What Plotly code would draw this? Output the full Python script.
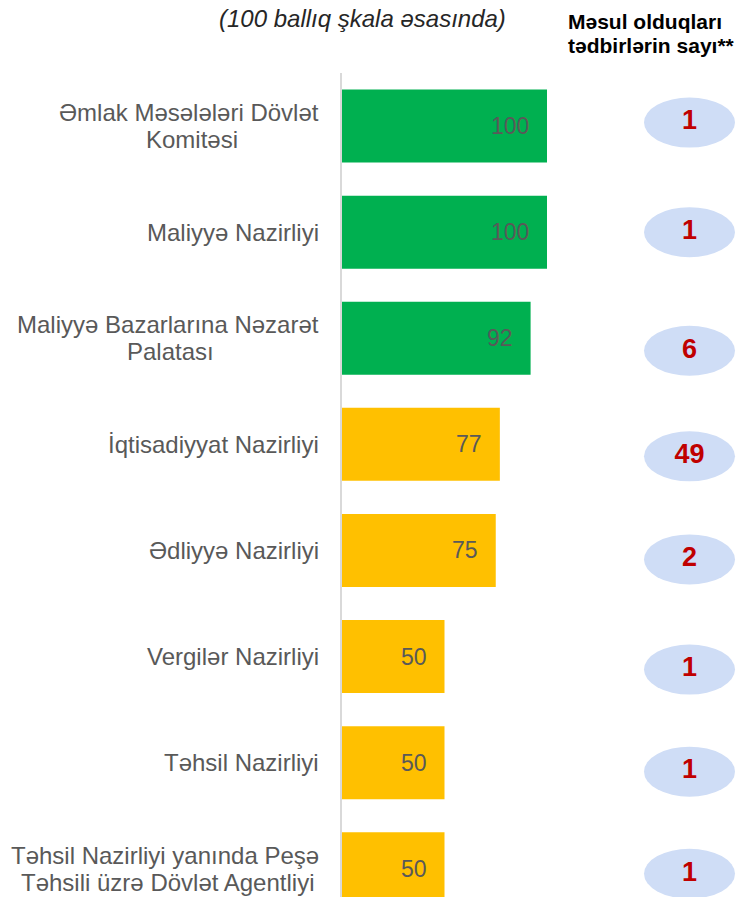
import plotly.graph_objects as go

categories = [
    "Əmlak Məsələləri Dövlət<br>Komitəsi",
    "Maliyyə Nazirliyi",
    "Maliyyə Bazarlarına Nəzarət<br>Palatası",
    "İqtisadiyyat Nazirliyi",
    "Ədliyyə Nazirliyi",
    "Vergilər Nazirliyi",
    "Təhsil Nazirliyi",
    "Təhsil Nazirliyi yanında Peşə<br>Təhsili üzrə Dövlət Agentliyi",
]
scores = [100, 100, 92, 77, 75, 50, 50, 50]
measures = [1, 1, 6, 49, 2, 1, 1, 1]

title_text = "(100 ballıq şkala əsasında)"
header_lines = ["Məsul olduqları", "tədbirlərin sayı**"]

GREEN = "#00B050"
YELLOW = "#FFC000"
colors = [GREEN if s >= 90 else YELLOW for s in scores]
FONT = "Liberation Sans, Arial, sans-serif"

# page geometry (body margin removed via post_script)
PAGE_OFF = 0
PLOT_L, PLOT_T, PLOT_R, PLOT_B = 342, 73, 738, 897
FIG_W = 738 - PAGE_OFF
FIG_H = 897 - PAGE_OFF
PW = PLOT_R - PLOT_L
PH = PLOT_B - PLOT_T
ROW_PX = 106.1
PX_PER_UNIT = 2.05
LABEL_SIZE = 24
LABEL_LINE_PX = 27

# approximate Arial / Liberation Sans advance widths (per em) for centering lines
_W = {" ": .278, "a": .556, "b": .556, "c": .5, "d": .556, "e": .556, "f": .278,
      "g": .556, "h": .556, "i": .222, "j": .222, "k": .5, "l": .222, "m": .833,
      "n": .556, "o": .556, "p": .556, "q": .556, "r": .333, "s": .5, "t": .278,
      "u": .556, "v": .5, "w": .722, "x": .5, "y": .5, "z": .5, "ə": .556,
      "ö": .556, "ü": .556, "ş": .5, "ı": .222, "ç": .5, "ğ": .556,
      "A": .667, "B": .667, "D": .722, "K": .667, "M": .833, "N": .722,
      "P": .667, "T": .611, "V": .667, "Ə": .722, "İ": .278}


def text_w(s, size):
    return sum(_W.get(ch, .556) for ch in s) * size


def paper_x(px):
    return (px - PLOT_L) / PW


def paper_y(py):
    return 1 - (py - PLOT_T) / PH


# style: vertical nudges (px) of the count ellipses relative to the bar rows
ellipse_nudge_px = [-3.5, 0, 12.5, 12, 9, 13, 9, 5]

idx = list(range(len(categories)))

fig = go.Figure()
fig.add_trace(go.Bar(
    x=scores, y=idx, orientation="h",
    marker=dict(color=colors, line=dict(width=0)),
    hoverinfo="skip", showlegend=False,
))

ELL_X0 = (644 - PLOT_L) / PX_PER_UNIT
ELL_X1 = (735 - PLOT_L) / PX_PER_UNIT
ELL_H = 50 / ROW_PX
ell_y = [i + ellipse_nudge_px[i] / ROW_PX for i in idx]

shapes = []
for i in idx:
    shapes.append(dict(
        type="circle", xref="x", yref="y",
        x0=ELL_X0, x1=ELL_X1,
        y0=ell_y[i] - ELL_H / 2, y1=ell_y[i] + ELL_H / 2,
        fillcolor="#CFDDF6", line=dict(width=0), layer="below",
    ))

fig.add_trace(go.Scatter(
    x=[(ELL_X0 + ELL_X1) / 2] * len(idx), y=ell_y,
    mode="text", text=[str(m) for m in measures],
    textposition="middle center",
    textfont=dict(family=FONT, size=27, color="#C00000", weight="bold"),
    hoverinfo="skip", showlegend=False, cliponaxis=False,
))

annotations = []
# value labels inside bars
for i, s in enumerate(scores):
    annotations.append(dict(
        x=s, y=i, xref="x", yref="y", text=str(s), showarrow=False,
        xanchor="right", yanchor="middle", xshift=-16,
        font=dict(family=FONT, size=23, color="#595959"),
    ))

# category labels: lines centered on each other, block right-aligned near axis
GAP = 21
for i, c in enumerate(categories):
    lines = c.split("<br>")
    n = len(lines)
    widths = [text_w(l, LABEL_SIZE) for l in lines]
    wmax = max(widths)
    for k, ln in enumerate(lines):
        ysh = ((n - 1) / 2 - k) * LABEL_LINE_PX
        if widths[k] == wmax:
            annotations.append(dict(
                x=0, y=i, xref="x", yref="y", text=ln, showarrow=False,
                xanchor="right", yanchor="middle", xshift=-GAP, yshift=ysh,
                font=dict(family=FONT, size=LABEL_SIZE, color="#595959"),
            ))
        else:
            annotations.append(dict(
                x=0, y=i, xref="x", yref="y", text=ln, showarrow=False,
                xanchor="center", yanchor="middle",
                xshift=-GAP - wmax / 2, yshift=ysh,
                font=dict(family=FONT, size=LABEL_SIZE, color="#595959"),
            ))

annotations.append(dict(
    x=paper_x(362), y=paper_y(19), xref="paper", yref="paper",
    text=f"<i>{title_text}</i>", showarrow=False,
    xanchor="center", yanchor="middle",
    font=dict(family=FONT, size=24, color="#262626"),
))
for k, ln in enumerate(header_lines):
    annotations.append(dict(
        x=paper_x(566), y=paper_y(22 + 24 * k), xref="paper", yref="paper",
        text=f"<b>{ln}</b>", showarrow=False, xanchor="left", yanchor="middle",
        font=dict(family=FONT, size=21, color="#000000"),
    ))

fig.update_layout(
    width=FIG_W, height=FIG_H,
    margin=dict(l=PLOT_L - PAGE_OFF, r=0, t=PLOT_T - PAGE_OFF, b=0),
    paper_bgcolor="white", plot_bgcolor="white",
    bargap=0.312,
    xaxis=dict(range=[0, PW / PX_PER_UNIT], visible=False, fixedrange=True),
    yaxis=dict(range=[(PH / ROW_PX) - 0.5, -0.5], showticklabels=False,
               showgrid=False, zeroline=False, showline=True,
               linecolor="#D9D9D9", linewidth=2, ticks="", fixedrange=True),
    shapes=shapes,
    annotations=annotations,
)

fig.write_html(
    "out.html",
    config={"displayModeBar": False},
    post_script="document.body.style.margin='0';"
                "document.body.style.overflow='hidden';"
                "document.documentElement.style.overflow='hidden';",
)
